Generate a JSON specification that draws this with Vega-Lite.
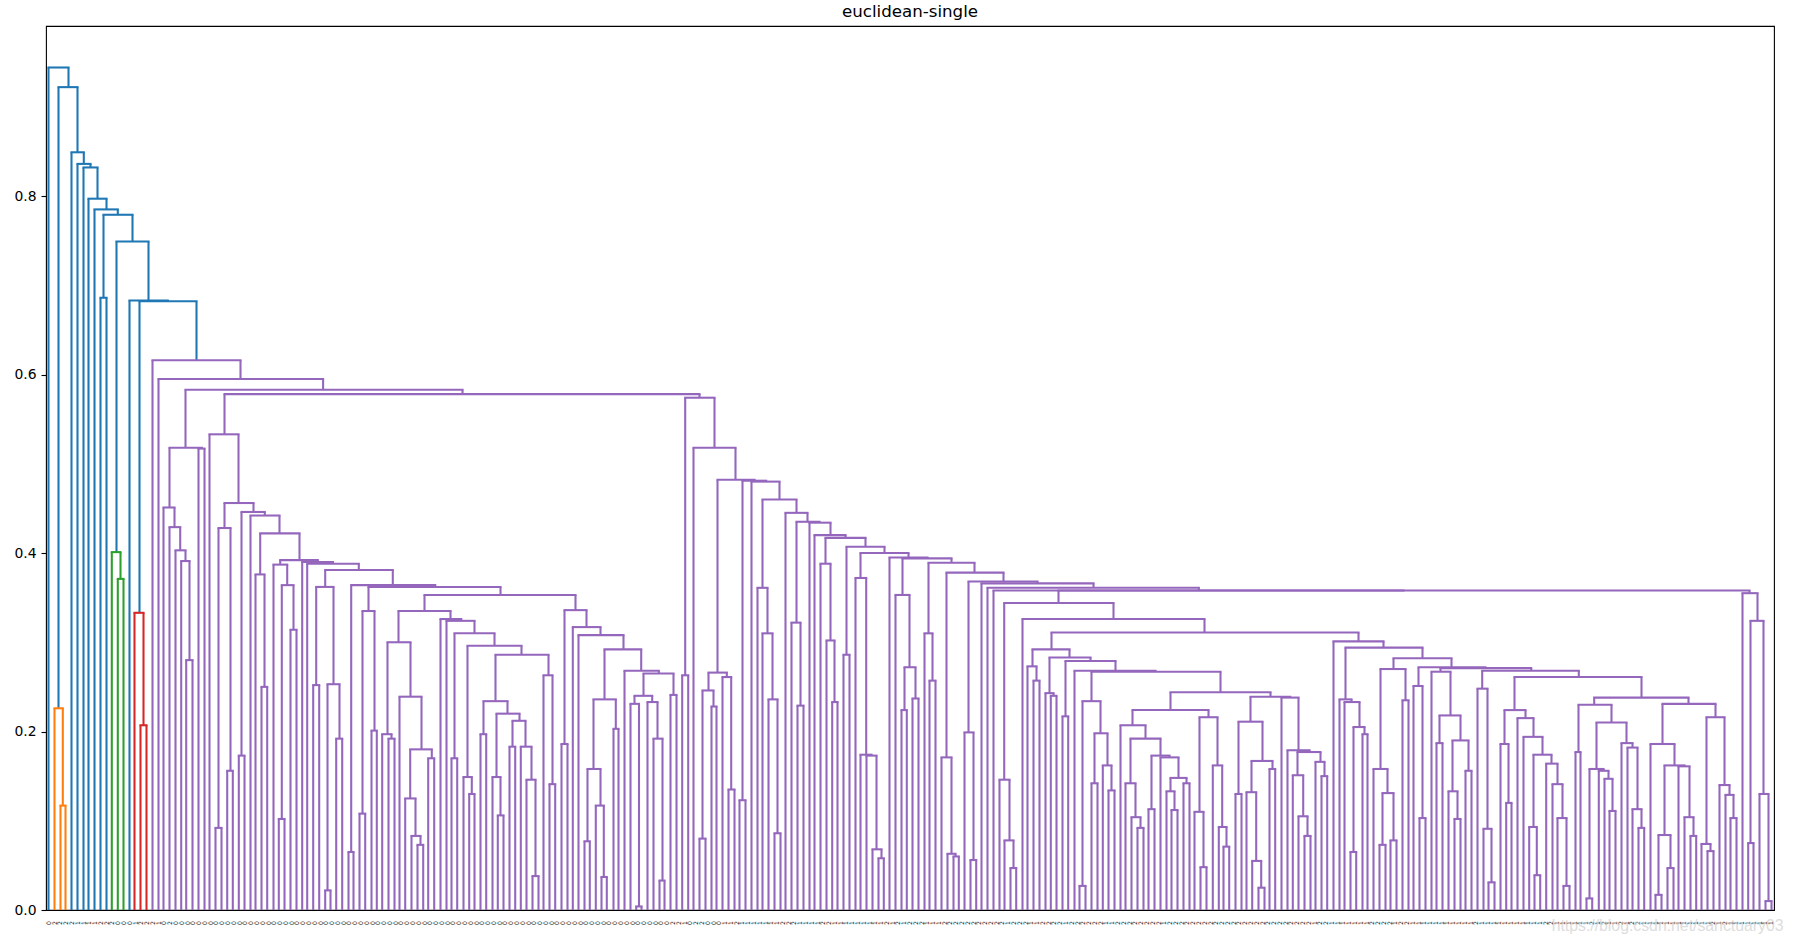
{"$schema":"https://vega.github.io/schema/vega-lite/v6.json","width":1728,"height":884,"autosize":{"type":"none"},"padding":{"left":46,"top":26,"right":19,"bottom":33},"background":"white","title":{"text":"euclidean-single","font":"DejaVu Sans","fontSize":16.67,"fontWeight":"normal","color":"#000","anchor":"middle","offset":5},"config":{"view":{"stroke":"#000","strokeWidth":1.1},"axisY":{"grid":false,"domain":false,"tickSize":5,"tickColor":"#000","tickWidth":1.1,"labelColor":"#000","labelFont":"DejaVu Sans","labelFontSize":13.9,"labelPadding":5,"title":null}},"datasets":{"links":[
{"l":49,"r":69,"t":0.944,"a":0,"b":0.922,"c":"C0"},{"l":59,"r":78,"t":0.922,"a":0.226,"b":0.849,"c":"C0"},{"l":72,"r":84.3,"t":0.849,"a":0,"b":0.836,"c":"C0"},{"l":78,"r":91,"t":0.836,"a":0,"b":0.832,"c":"C0"},{"l":84,"r":98,"t":0.832,"a":0,"b":0.797,"c":"C0"},{"l":89,"r":107,"t":0.797,"a":0,"b":0.785,"c":"C0"},{"l":95,"r":118.3,"t":0.785,"a":0,"b":0.779,"c":"C0"},{"l":104,"r":133,"t":0.779,"a":0.686,"b":0.749,"c":"C0"},{"l":101,"r":107,"t":0.686,"a":0,"b":0,"c":"C0"},{"l":117,"r":149,"t":0.749,"a":0.401,"b":0.683,"c":"C0"},{"l":130,"r":168.3,"t":0.683,"a":0,"b":0.682,"c":"C0"},{"l":140,"r":197,"t":0.682,"a":0.333,"b":0.616,"c":"C0"},
{"l":55,"r":63.3,"t":0.226,"a":0,"b":0.117,"c":"C1"},{"l":61,"r":66,"t":0.117,"a":0,"b":0,"c":"C1"},
{"l":112.3,"r":121,"t":0.401,"a":0,"b":0.371,"c":"C2"},{"l":118.3,"r":124,"t":0.371,"a":0,"b":0,"c":"C2"},
{"l":135,"r":144,"t":0.333,"a":0,"b":0.207,"c":"C3"},{"l":141,"r":147,"t":0.207,"a":0,"b":0,"c":"C3"},
{"l":153,"r":241,"t":0.616,"a":0,"b":0.595,"c":"C4"},{"l":159,"r":323.6,"t":0.595,"a":0,"b":0.583,"c":"C4"},{"l":186,"r":463,"t":0.583,"a":0.518,"b":0.578,"c":"C4"},{"l":170,"r":202.3,"t":0.518,"a":0.451,"b":0.517,"c":"C4"},{"l":164,"r":175,"t":0.451,"a":0,"b":0.429,"c":"C4"},{"l":170,"r":180.7,"t":0.429,"a":0,"b":0.403,"c":"C4"},{"l":176,"r":186,"t":0.403,"a":0,"b":0.391,"c":"C4"},{"l":181.7,"r":190,"t":0.391,"a":0,"b":0.28,"c":"C4"},{"l":186.7,"r":193,"t":0.28,"a":0,"b":0,"c":"C4"},{"l":199,"r":205,"t":0.517,"a":0,"b":0,"c":"C4"},
{"l":225,"r":700,"t":0.578,"a":0.533,"b":0.574,"c":"C4"},{"l":210,"r":239,"t":0.533,"a":0,"b":0.456,"c":"C4"},{"l":225,"r":254,"t":0.456,"a":0.428,"b":0.446,"c":"C4"},{"l":219,"r":231,"t":0.428,"a":0.092,"b":0.156,"c":"C4"},{"l":216,"r":222,"t":0.092,"a":0,"b":0,"c":"C4"},{"l":227.7,"r":233.3,"t":0.156,"a":0,"b":0,"c":"C4"},{"l":242,"r":265.3,"t":0.446,"a":0.173,"b":0.442,"c":"C4"},{"l":239.3,"r":245,"t":0.173,"a":0,"b":0,"c":"C4"},{"l":251,"r":280,"t":0.442,"a":0,"b":0.422,"c":"C4"},{"l":260.7,"r":300,"t":0.422,"a":0.376,"b":0.392,"c":"C4"},{"l":256,"r":265,"t":0.376,"a":0,"b":0.25,"c":"C4"},{"l":262,"r":267.7,"t":0.25,"a":0,"b":0,"c":"C4"},{"l":280.7,"r":318.3,"t":0.392,"a":0.387,"b":0.39,"c":"C4"},{"l":274,"r":287.7,"t":0.387,"a":0,"b":0.364,"c":"C4"},{"l":282.3,"r":294,"t":0.364,"a":0.102,"b":0.314,"c":"C4"},{"l":279.3,"r":285,"t":0.102,"a":0,"b":0,"c":"C4"},{"l":291,"r":297,"t":0.314,"a":0,"b":0,"c":"C4"},{"l":302.7,"r":333.5,"t":0.39,"a":0,"b":0.388,"c":"C4"},{"l":307.7,"r":359.3,"t":0.388,"a":0,"b":0.381,"c":"C4"},{"l":325.7,"r":393.3,"t":0.381,"a":0.362,"b":0.364,"c":"C4"},{"l":316.7,"r":334,"t":0.362,"a":0.252,"b":0.253,"c":"C4"},{"l":313.7,"r":319.7,"t":0.252,"a":0,"b":0,"c":"C4"},{"l":328,"r":340,"t":0.253,"a":0.022,"b":0.192,"c":"C4"},{"l":325.7,"r":331,"t":0.022,"a":0,"b":0,"c":"C4"},{"l":336.7,"r":342.7,"t":0.192,"a":0,"b":0,"c":"C4"},{"l":351.7,"r":435.7,"t":0.364,"a":0.065,"b":0.362,"c":"C4"},{"l":349,"r":354,"t":0.065,"a":0,"b":0,"c":"C4"},{"l":369,"r":501,"t":0.362,"a":0.335,"b":0.353,"c":"C4"},{"l":363,"r":375,"t":0.335,"a":0.108,"b":0.201,"c":"C4"},{"l":360,"r":365.7,"t":0.108,"a":0,"b":0,"c":"C4"},{"l":372,"r":377.3,"t":0.201,"a":0,"b":0,"c":"C4"},{"l":425,"r":576,"t":0.353,"a":0.335,"b":0.336,"c":"C4"},{"l":399,"r":451,"t":0.335,"a":0.3,"b":0.326,"c":"C4"},{"l":388,"r":411,"t":0.3,"a":0.197,"b":0.239,"c":"C4"},{"l":382.7,"r":392,"t":0.197,"a":0,"b":0.192,"c":"C4"},{"l":389,"r":395,"t":0.192,"a":0,"b":0,"c":"C4"},{"l":400,"r":422,"t":0.239,"a":0,"b":0.18,"c":"C4"},{"l":410.7,"r":432.3,"t":0.18,"a":0.125,"b":0.17,"c":"C4"},{"l":405.7,"r":416,"t":0.125,"a":0,"b":0.083,"c":"C4"},{"l":412,"r":421,"t":0.083,"a":0,"b":0.073,"c":"C4"},{"l":418,"r":423.7,"t":0.073,"a":0,"b":0,"c":"C4"},{"l":428.7,"r":434.7,"t":0.17,"a":0,"b":0,"c":"C4"},{"l":441,"r":461.7,"t":0.326,"a":0,"b":0.324,"c":"C4"},{"l":447,"r":475,"t":0.324,"a":0,"b":0.31,"c":"C4"},{"l":455,"r":495,"t":0.31,"a":0.17,"b":0.296,"c":"C4"},{"l":452,"r":457.7,"t":0.17,"a":0,"b":0,"c":"C4"},{"l":468,"r":522,"t":0.296,"a":0.149,"b":0.286,"c":"C4"},{"l":464,"r":472.3,"t":0.149,"a":0,"b":0.13,"c":"C4"},{"l":469.7,"r":475,"t":0.13,"a":0,"b":0,"c":"C4"},{"l":496,"r":549,"t":0.286,"a":0.234,"b":0.263,"c":"C4"},{"l":484,"r":508,"t":0.234,"a":0.197,"b":0.22,"c":"C4"},{"l":481,"r":486.7,"t":0.197,"a":0,"b":0,"c":"C4"},{"l":497,"r":520,"t":0.22,"a":0.149,"b":0.212,"c":"C4"},{"l":493,"r":501,"t":0.149,"a":0,"b":0.106,"c":"C4"},{"l":498.3,"r":504,"t":0.106,"a":0,"b":0,"c":"C4"},{"l":513,"r":526,"t":0.212,"a":0.183,"b":0.183,"c":"C4"},{"l":510,"r":515.7,"t":0.183,"a":0,"b":0,"c":"C4"},{"l":521.3,"r":532,"t":0.183,"a":0,"b":0.146,"c":"C4"},{"l":527,"r":536,"t":0.146,"a":0,"b":0.038,"c":"C4"},{"l":533,"r":539,"t":0.038,"a":0,"b":0,"c":"C4"},{"l":544,"r":553,"t":0.263,"a":0,"b":0.141,"c":"C4"},{"l":550,"r":555.7,"t":0.141,"a":0,"b":0,"c":"C4"},{"l":565,"r":587,"t":0.336,"a":0.186,"b":0.317,"c":"C4"},{"l":562,"r":568,"t":0.186,"a":0,"b":0,"c":"C4"},{"l":573.3,"r":601,"t":0.317,"a":0,"b":0.308,"c":"C4"},{"l":579,"r":624,"t":0.308,"a":0,"b":0.292,"c":"C4"},{"l":605,"r":641.7,"t":0.292,"a":0.236,"b":0.268,"c":"C4"},{"l":594,"r":616.3,"t":0.236,"a":0.158,"b":0.203,"c":"C4"},{"l":588,"r":601,"t":0.158,"a":0.077,"b":0.117,"c":"C4"},{"l":585,"r":590.3,"t":0.077,"a":0,"b":0,"c":"C4"},{"l":596.3,"r":604.3,"t":0.117,"a":0,"b":0.037,"c":"C4"},{"l":602,"r":607.3,"t":0.037,"a":0,"b":0,"c":"C4"},{"l":614,"r":619,"t":0.203,"a":0,"b":0,"c":"C4"},{"l":625,"r":659.3,"t":0.268,"a":0,"b":0.265,"c":"C4"},{"l":644,"r":674,"t":0.265,"a":0.24,"b":0.241,"c":"C4"},{"l":635,"r":652.7,"t":0.24,"a":0.231,"b":0.233,"c":"C4"},{"l":631,"r":639.5,"t":0.231,"a":0,"b":0.004,"c":"C4"},{"l":636.7,"r":642,"t":0.004,"a":0,"b":0,"c":"C4"},{"l":648,"r":658,"t":0.233,"a":0,"b":0.192,"c":"C4"},{"l":654,"r":663,"t":0.192,"a":0,"b":0.033,"c":"C4"},{"l":660,"r":665,"t":0.033,"a":0,"b":0,"c":"C4"},{"l":671,"r":677,"t":0.241,"a":0,"b":0,"c":"C4"},
{"l":685.7,"r":715,"t":0.574,"a":0.263,"b":0.518,"c":"C4"},{"l":682.7,"r":688.7,"t":0.263,"a":0,"b":0,"c":"C4"},{"l":694,"r":736,"t":0.518,"a":0,"b":0.482,"c":"C4"},{"l":718,"r":755,"t":0.482,"a":0.266,"b":0.481,"c":"C4"},{"l":709,"r":727.3,"t":0.266,"a":0.246,"b":0.261,"c":"C4"},{"l":703,"r":714,"t":0.246,"a":0.08,"b":0.228,"c":"C4"},{"l":700,"r":706,"t":0.08,"a":0,"b":0,"c":"C4"},{"l":712,"r":717,"t":0.228,"a":0,"b":0,"c":"C4"},{"l":723,"r":731.7,"t":0.261,"a":0,"b":0.135,"c":"C4"},{"l":729,"r":735,"t":0.135,"a":0,"b":0,"c":"C4"},{"l":743,"r":766.7,"t":0.481,"a":0.123,"b":0.48,"c":"C4"},{"l":740,"r":746,"t":0.123,"a":0,"b":0,"c":"C4"},{"l":752,"r":780,"t":0.48,"a":0,"b":0.46,"c":"C4"},{"l":763,"r":797,"t":0.46,"a":0.361,"b":0.445,"c":"C4"},{"l":758,"r":768,"t":0.361,"a":0,"b":0.31,"c":"C4"},{"l":763,"r":773,"t":0.31,"a":0,"b":0.236,"c":"C4"},{"l":769,"r":778,"t":0.236,"a":0,"b":0.086,"c":"C4"},{"l":775,"r":781,"t":0.086,"a":0,"b":0,"c":"C4"},{"l":786,"r":808,"t":0.445,"a":0,"b":0.435,"c":"C4"},{"l":797,"r":820,"t":0.435,"a":0.322,"b":0.434,"c":"C4"},{"l":792,"r":801,"t":0.322,"a":0,"b":0.229,"c":"C4"},{"l":798,"r":804,"t":0.229,"a":0,"b":0,"c":"C4"},{"l":810,"r":831,"t":0.434,"a":0,"b":0.42,"c":"C4"},{"l":815,"r":846,"t":0.42,"a":0,"b":0.417,"c":"C4"},{"l":826,"r":866,"t":0.417,"a":0.388,"b":0.407,"c":"C4"},{"l":821,"r":831,"t":0.388,"a":0,"b":0.302,"c":"C4"},{"l":827,"r":835,"t":0.302,"a":0,"b":0.233,"c":"C4"},{"l":832.7,"r":838,"t":0.233,"a":0,"b":0,"c":"C4"},{"l":847,"r":885,"t":0.407,"a":0.286,"b":0.4,"c":"C4"},{"l":844,"r":850,"t":0.286,"a":0,"b":0,"c":"C4"},{"l":861,"r":909,"t":0.4,"a":0.372,"b":0.395,"c":"C4"},{"l":856,"r":866.7,"t":0.372,"a":0,"b":0.174,"c":"C4"},{"l":861,"r":872,"t":0.174,"a":0,"b":0.173,"c":"C4"},{"l":867,"r":877,"t":0.173,"a":0,"b":0.068,"c":"C4"},{"l":873,"r":882,"t":0.068,"a":0,"b":0.058,"c":"C4"},{"l":879,"r":884.3,"t":0.058,"a":0,"b":0,"c":"C4"},{"l":890,"r":928,"t":0.395,"a":0,"b":0.394,"c":"C4"},{"l":903,"r":952,"t":0.394,"a":0.353,"b":0.389,"c":"C4"},{"l":896,"r":910,"t":0.353,"a":0,"b":0.272,"c":"C4"},{"l":905,"r":916,"t":0.272,"a":0.224,"b":0.237,"c":"C4"},{"l":902,"r":907.3,"t":0.224,"a":0,"b":0,"c":"C4"},{"l":913,"r":919,"t":0.237,"a":0,"b":0,"c":"C4"},{"l":929,"r":975,"t":0.389,"a":0.31,"b":0.378,"c":"C4"},{"l":925,"r":933,"t":0.31,"a":0,"b":0.257,"c":"C4"},{"l":930,"r":936,"t":0.257,"a":0,"b":0,"c":"C4"},{"l":947,"r":1004,"t":0.378,"a":0.171,"b":0.368,"c":"C4"},{"l":942,"r":952,"t":0.171,"a":0,"b":0.063,"c":"C4"},{"l":948,"r":956,"t":0.063,"a":0,"b":0.06,"c":"C4"},{"l":954,"r":959.3,"t":0.06,"a":0,"b":0,"c":"C4"},{"l":969,"r":1038,"t":0.368,"a":0.199,"b":0.366,"c":"C4"},{"l":965,"r":974,"t":0.199,"a":0,"b":0.056,"c":"C4"},{"l":971,"r":976.7,"t":0.056,"a":0,"b":0,"c":"C4"},{"l":982,"r":1094,"t":0.366,"a":0,"b":0.361,"c":"C4"},{"l":988,"r":1199.3,"t":0.361,"a":0,"b":0.358,"c":"C4"},{"l":994,"r":1404,"t":0.358,"a":0,"b":0.358,"c":"C4"},{"l":1059,"r":1750,"t":0.358,"a":0.344,"b":0.355,"c":"C4"},{"l":1004.7,"r":1114,"t":0.344,"a":0.146,"b":0.326,"c":"C4"},{"l":1000,"r":1010,"t":0.146,"a":0,"b":0.078,"c":"C4"},{"l":1005,"r":1014,"t":0.078,"a":0,"b":0.047,"c":"C4"},{"l":1011,"r":1016.7,"t":0.047,"a":0,"b":0,"c":"C4"},{"l":1023,"r":1205,"t":0.326,"a":0,"b":0.311,"c":"C4"},{"l":1052,"r":1359,"t":0.311,"a":0.292,"b":0.301,"c":"C4"},{"l":1033,"r":1070,"t":0.292,"a":0.273,"b":0.283,"c":"C4"},{"l":1028,"r":1037,"t":0.273,"a":0,"b":0.257,"c":"C4"},{"l":1034,"r":1040,"t":0.257,"a":0,"b":0,"c":"C4"},{"l":1050,"r":1091,"t":0.283,"a":0.243,"b":0.279,"c":"C4"},{"l":1046,"r":1054,"t":0.243,"a":0,"b":0.24,"c":"C4"},{"l":1051.3,"r":1057,"t":0.24,"a":0,"b":0,"c":"C4"},{"l":1066,"r":1116,"t":0.279,"a":0.217,"b":0.268,"c":"C4"},{"l":1063,"r":1068.7,"t":0.217,"a":0,"b":0,"c":"C4"},{"l":1075,"r":1156,"t":0.268,"a":0,"b":0.267,"c":"C4"},{"l":1092,"r":1221,"t":0.267,"a":0.234,"b":0.244,"c":"C4"},{"l":1083,"r":1101,"t":0.234,"a":0.027,"b":0.198,"c":"C4"},{"l":1080,"r":1086,"t":0.027,"a":0,"b":0,"c":"C4"},{"l":1095,"r":1108,"t":0.198,"a":0.142,"b":0.162,"c":"C4"},{"l":1092,"r":1098,"t":0.142,"a":0,"b":0,"c":"C4"},{"l":1103.3,"r":1112,"t":0.162,"a":0,"b":0.134,"c":"C4"},{"l":1109,"r":1115,"t":0.134,"a":0,"b":0,"c":"C4"},{"l":1171,"r":1271,"t":0.244,"a":0.224,"b":0.239,"c":"C4"},{"l":1133,"r":1209,"t":0.224,"a":0.207,"b":0.216,"c":"C4"},{"l":1121,"r":1146,"t":0.207,"a":0,"b":0.192,"c":"C4"},{"l":1131,"r":1161,"t":0.192,"a":0.142,"b":0.173,"c":"C4"},{"l":1126,"r":1136,"t":0.142,"a":0,"b":0.104,"c":"C4"},{"l":1132,"r":1141,"t":0.104,"a":0,"b":0.092,"c":"C4"},{"l":1138,"r":1144,"t":0.092,"a":0,"b":0,"c":"C4"},{"l":1152,"r":1170,"t":0.173,"a":0.113,"b":0.171,"c":"C4"},{"l":1149,"r":1155,"t":0.113,"a":0,"b":0,"c":"C4"},{"l":1161,"r":1179,"t":0.171,"a":0,"b":0.148,"c":"C4"},{"l":1171,"r":1187,"t":0.148,"a":0.133,"b":0.142,"c":"C4"},{"l":1167,"r":1175,"t":0.133,"a":0,"b":0.112,"c":"C4"},{"l":1172,"r":1178,"t":0.112,"a":0,"b":0,"c":"C4"},{"l":1184,"r":1190,"t":0.142,"a":0,"b":0,"c":"C4"},{"l":1200,"r":1218,"t":0.216,"a":0.11,"b":0.162,"c":"C4"},{"l":1195,"r":1204,"t":0.11,"a":0,"b":0.048,"c":"C4"},{"l":1201,"r":1207,"t":0.048,"a":0,"b":0,"c":"C4"},{"l":1213.3,"r":1222.7,"t":0.162,"a":0,"b":0.093,"c":"C4"},{"l":1219.3,"r":1227,"t":0.093,"a":0,"b":0.071,"c":"C4"},{"l":1224,"r":1229.7,"t":0.071,"a":0,"b":0,"c":"C4"},{"l":1251,"r":1290.7,"t":0.239,"a":0.211,"b":0.238,"c":"C4"},{"l":1239,"r":1263,"t":0.211,"a":0.13,"b":0.167,"c":"C4"},{"l":1236,"r":1242,"t":0.13,"a":0,"b":0,"c":"C4"},{"l":1252,"r":1273,"t":0.167,"a":0.132,"b":0.158,"c":"C4"},{"l":1247,"r":1256.7,"t":0.132,"a":0,"b":0.055,"c":"C4"},{"l":1252.7,"r":1261.7,"t":0.055,"a":0,"b":0.025,"c":"C4"},{"l":1259,"r":1265,"t":0.025,"a":0,"b":0,"c":"C4"},{"l":1270,"r":1275.7,"t":0.158,"a":0,"b":0,"c":"C4"},{"l":1282,"r":1299,"t":0.238,"a":0,"b":0.179,"c":"C4"},{"l":1288,"r":1310,"t":0.179,"a":0,"b":0.177,"c":"C4"},{"l":1298,"r":1321,"t":0.177,"a":0.151,"b":0.166,"c":"C4"},{"l":1293.3,"r":1303.7,"t":0.151,"a":0,"b":0.105,"c":"C4"},{"l":1299,"r":1308,"t":0.105,"a":0,"b":0.083,"c":"C4"},{"l":1305,"r":1311,"t":0.083,"a":0,"b":0,"c":"C4"},{"l":1316,"r":1325,"t":0.166,"a":0,"b":0.15,"c":"C4"},{"l":1322,"r":1327.7,"t":0.15,"a":0,"b":0,"c":"C4"},{"l":1334,"r":1384,"t":0.301,"a":0,"b":0.294,"c":"C4"},{"l":1346,"r":1423,"t":0.294,"a":0.236,"b":0.282,"c":"C4"},{"l":1340,"r":1352,"t":0.236,"a":0,"b":0.233,"c":"C4"},{"l":1345,"r":1360,"t":0.233,"a":0,"b":0.205,"c":"C4"},{"l":1354,"r":1365,"t":0.205,"a":0.065,"b":0.197,"c":"C4"},{"l":1351,"r":1356.7,"t":0.065,"a":0,"b":0,"c":"C4"},{"l":1363,"r":1368,"t":0.197,"a":0,"b":0,"c":"C4"},{"l":1394,"r":1452,"t":0.282,"a":0.27,"b":0.272,"c":"C4"},{"l":1381,"r":1406,"t":0.27,"a":0.158,"b":0.235,"c":"C4"},{"l":1374,"r":1388,"t":0.158,"a":0,"b":0.131,"c":"C4"},{"l":1383,"r":1394,"t":0.131,"a":0.073,"b":0.078,"c":"C4"},{"l":1380,"r":1386,"t":0.073,"a":0,"b":0,"c":"C4"},{"l":1391,"r":1397,"t":0.078,"a":0,"b":0,"c":"C4"},{"l":1403,"r":1409,"t":0.235,"a":0,"b":0,"c":"C4"},{"l":1419,"r":1486,"t":0.272,"a":0.251,"b":0.271,"c":"C4"},{"l":1414,"r":1423,"t":0.251,"a":0,"b":0.103,"c":"C4"},{"l":1420,"r":1426,"t":0.103,"a":0,"b":0,"c":"C4"},{"l":1441,"r":1531.7,"t":0.271,"a":0.267,"b":0.268,"c":"C4"},{"l":1432,"r":1451,"t":0.267,"a":0,"b":0.218,"c":"C4"},{"l":1440,"r":1461,"t":0.218,"a":0.187,"b":0.19,"c":"C4"},{"l":1437,"r":1443,"t":0.187,"a":0,"b":0,"c":"C4"},{"l":1453,"r":1469,"t":0.19,"a":0.133,"b":0.156,"c":"C4"},{"l":1449,"r":1458,"t":0.133,"a":0,"b":0.102,"c":"C4"},{"l":1455,"r":1461,"t":0.102,"a":0,"b":0,"c":"C4"},{"l":1466,"r":1472,"t":0.156,"a":0,"b":0,"c":"C4"},{"l":1482.7,"r":1579.3,"t":0.268,"a":0.248,"b":0.261,"c":"C4"},{"l":1478,"r":1488,"t":0.248,"a":0,"b":0.091,"c":"C4"},{"l":1484,"r":1492,"t":0.091,"a":0,"b":0.031,"c":"C4"},{"l":1489,"r":1495,"t":0.031,"a":0,"b":0,"c":"C4"},{"l":1515,"r":1642,"t":0.261,"a":0.224,"b":0.238,"c":"C4"},{"l":1505,"r":1526,"t":0.224,"a":0.186,"b":0.215,"c":"C4"},{"l":1501,"r":1509,"t":0.186,"a":0,"b":0.12,"c":"C4"},{"l":1506.7,"r":1512,"t":0.12,"a":0,"b":0,"c":"C4"},{"l":1518,"r":1534,"t":0.215,"a":0,"b":0.194,"c":"C4"},{"l":1524,"r":1543,"t":0.194,"a":0,"b":0.174,"c":"C4"},{"l":1534,"r":1552,"t":0.174,"a":0.093,"b":0.164,"c":"C4"},{"l":1529.7,"r":1537.3,"t":0.093,"a":0,"b":0.039,"c":"C4"},{"l":1535,"r":1540.7,"t":0.039,"a":0,"b":0,"c":"C4"},{"l":1546.7,"r":1558,"t":0.164,"a":0,"b":0.141,"c":"C4"},{"l":1553,"r":1563,"t":0.141,"a":0,"b":0.103,"c":"C4"},{"l":1558,"r":1567,"t":0.103,"a":0,"b":0.027,"c":"C4"},{"l":1564,"r":1570,"t":0.027,"a":0,"b":0,"c":"C4"},{"l":1594.7,"r":1689,"t":0.238,"a":0.23,"b":0.231,"c":"C4"},{"l":1579,"r":1612,"t":0.23,"a":0.177,"b":0.21,"c":"C4"},{"l":1576,"r":1581,"t":0.177,"a":0,"b":0,"c":"C4"},{"l":1597,"r":1627,"t":0.21,"a":0.158,"b":0.187,"c":"C4"},{"l":1590,"r":1604,"t":0.158,"a":0.013,"b":0.156,"c":"C4"},{"l":1587,"r":1592.7,"t":0.013,"a":0,"b":0,"c":"C4"},{"l":1599.3,"r":1609,"t":0.156,"a":0,"b":0.147,"c":"C4"},{"l":1605,"r":1613,"t":0.147,"a":0,"b":0.111,"c":"C4"},{"l":1610,"r":1616,"t":0.111,"a":0,"b":0,"c":"C4"},{"l":1622,"r":1633,"t":0.187,"a":0,"b":0.182,"c":"C4"},{"l":1628,"r":1638,"t":0.182,"a":0,"b":0.113,"c":"C4"},{"l":1633,"r":1642,"t":0.113,"a":0,"b":0.092,"c":"C4"},{"l":1639,"r":1644.7,"t":0.092,"a":0,"b":0,"c":"C4"},{"l":1663,"r":1716,"t":0.231,"a":0.186,"b":0.216,"c":"C4"},{"l":1651,"r":1675,"t":0.186,"a":0,"b":0.162,"c":"C4"},{"l":1665,"r":1685,"t":0.162,"a":0.084,"b":0.161,"c":"C4"},{"l":1679,"r":1690,"t":0.161,"a":0,"b":0.104,"c":"C4"},{"l":1685,"r":1694,"t":0.104,"a":0,"b":0.083,"c":"C4"},{"l":1691,"r":1696.7,"t":0.083,"a":0,"b":0,"c":"C4"},{"l":1659,"r":1671,"t":0.084,"a":0.017,"b":0.047,"c":"C4"},{"l":1656,"r":1662,"t":0.017,"a":0,"b":0,"c":"C4"},{"l":1668,"r":1674,"t":0.047,"a":0,"b":0,"c":"C4"},{"l":1707,"r":1725,"t":0.216,"a":0.074,"b":0.14,"c":"C4"},{"l":1702,"r":1711,"t":0.074,"a":0,"b":0.066,"c":"C4"},{"l":1708,"r":1714,"t":0.066,"a":0,"b":0,"c":"C4"},{"l":1720,"r":1730,"t":0.14,"a":0,"b":0.129,"c":"C4"},{"l":1726,"r":1734,"t":0.129,"a":0,"b":0.103,"c":"C4"},{"l":1731,"r":1737,"t":0.103,"a":0,"b":0,"c":"C4"},{"l":1743,"r":1758,"t":0.355,"a":0,"b":0.324,"c":"C4"},{"l":1751,"r":1764,"t":0.324,"a":0.075,"b":0.13,"c":"C4"},{"l":1748.7,"r":1754,"t":0.075,"a":0,"b":0,"c":"C4"},{"l":1760,"r":1769,"t":0.13,"a":0,"b":0.01,"c":"C4"},{"l":1766,"r":1772,"t":0.01,"a":0,"b":0,"c":"C4"}
],"leaves":[
{"k":0,"s":0},{"k":1,"s":2},{"k":2,"s":2},{"k":3,"s":2},{"k":4,"s":2},{"k":5,"s":1},{"k":6,"s":1},{"k":7,"s":1},{"k":8,"s":1},{"k":9,"s":2},{"k":10,"s":2},{"k":11,"s":2},{"k":12,"s":0},{"k":13,"s":0},{"k":14,"s":0},{"k":15,"s":1},{"k":16,"s":2},{"k":17,"s":2},{"k":18,"s":2},{"k":19,"s":1},{"k":20,"s":0},{"k":21,"s":2},
{"k":22,"s":0},{"k":23,"s":0},{"k":24,"s":0},{"k":25,"s":0},{"k":26,"s":0},{"k":27,"s":0},{"k":28,"s":0},{"k":29,"s":0},{"k":30,"s":0},{"k":31,"s":0},{"k":32,"s":0},{"k":33,"s":0},{"k":34,"s":0},{"k":35,"s":0},{"k":36,"s":0},{"k":37,"s":0},{"k":38,"s":0},{"k":39,"s":0},{"k":40,"s":0},{"k":41,"s":0},{"k":42,"s":0},{"k":43,"s":0},{"k":44,"s":0},{"k":45,"s":0},{"k":46,"s":0},{"k":47,"s":0},{"k":48,"s":0},{"k":49,"s":0},{"k":50,"s":0},{"k":51,"s":0},{"k":52,"s":0},{"k":53,"s":0},{"k":54,"s":0},{"k":55,"s":0},{"k":56,"s":0},{"k":57,"s":0},{"k":58,"s":0},{"k":59,"s":0},{"k":60,"s":0},{"k":61,"s":0},{"k":62,"s":0},{"k":63,"s":0},{"k":64,"s":0},{"k":65,"s":0},{"k":66,"s":0},{"k":67,"s":0},{"k":68,"s":0},{"k":69,"s":0},{"k":70,"s":0},{"k":71,"s":0},{"k":72,"s":0},{"k":73,"s":0},{"k":74,"s":0},{"k":75,"s":0},{"k":76,"s":0},{"k":77,"s":0},{"k":78,"s":0},{"k":79,"s":0},{"k":80,"s":0},{"k":81,"s":0},{"k":82,"s":0},{"k":83,"s":0},{"k":84,"s":0},{"k":85,"s":0},{"k":86,"s":0},{"k":87,"s":0},{"k":88,"s":0},{"k":89,"s":0},{"k":90,"s":0},{"k":91,"s":0},{"k":92,"s":0},{"k":93,"s":0},{"k":94,"s":0},{"k":95,"s":0},{"k":96,"s":0},{"k":97,"s":0},{"k":98,"s":0},{"k":99,"s":0},{"k":100,"s":0},{"k":101,"s":0},{"k":102,"s":0},{"k":103,"s":0},{"k":104,"s":0},{"k":105,"s":0},{"k":106,"s":0},{"k":107,"s":0},
{"k":108,"s":2},{"k":109,"s":2},{"k":110,"s":1},{"k":111,"s":0},{"k":112,"s":2},{"k":113,"s":2},{"k":114,"s":0},{"k":115,"s":0},{"k":116,"s":0},{"k":117,"s":1},{"k":118,"s":1},{"k":119,"s":2},{"k":120,"s":1},{"k":121,"s":1},{"k":122,"s":1},{"k":123,"s":1},{"k":124,"s":1},{"k":125,"s":1},{"k":126,"s":1},{"k":127,"s":2},{"k":128,"s":2},{"k":129,"s":2},{"k":130,"s":1},{"k":131,"s":1},{"k":132,"s":1},{"k":133,"s":1},{"k":134,"s":2},{"k":135,"s":2},{"k":136,"s":1},{"k":137,"s":1},{"k":138,"s":1},{"k":139,"s":1},{"k":140,"s":1},{"k":141,"s":1},{"k":142,"s":1},{"k":143,"s":1},{"k":144,"s":1},{"k":145,"s":2},{"k":146,"s":1},{"k":147,"s":2},{"k":148,"s":1},{"k":149,"s":2},{"k":150,"s":2},{"k":151,"s":2},{"k":152,"s":1},{"k":153,"s":1},{"k":154,"s":1},{"k":155,"s":2},{"k":156,"s":2},{"k":157,"s":2},{"k":158,"s":2},{"k":159,"s":2},{"k":160,"s":2},
{"k":161,"s":2},{"k":162,"s":2},{"k":163,"s":2},{"k":164,"s":2},{"k":165,"s":2},{"k":166,"s":1},{"k":167,"s":2},{"k":168,"s":2},{"k":169,"s":2},{"k":170,"s":1},{"k":171,"s":1},{"k":172,"s":2},{"k":173,"s":2},{"k":174,"s":2},{"k":175,"s":2},{"k":176,"s":1},{"k":177,"s":2},{"k":178,"s":2},{"k":179,"s":2},{"k":180,"s":2},{"k":181,"s":2},{"k":182,"s":2},{"k":183,"s":1},{"k":184,"s":1},{"k":185,"s":2},{"k":186,"s":2},{"k":187,"s":2},{"k":188,"s":2},{"k":189,"s":2},{"k":190,"s":2},{"k":191,"s":2},{"k":192,"s":2},{"k":193,"s":1},{"k":194,"s":2},{"k":195,"s":2},{"k":196,"s":2},{"k":197,"s":2},{"k":198,"s":2},{"k":199,"s":2},{"k":200,"s":2},{"k":201,"s":2},{"k":202,"s":2},{"k":203,"s":2},{"k":204,"s":2},{"k":205,"s":2},{"k":206,"s":2},{"k":207,"s":2},{"k":208,"s":2},
{"k":209,"s":2},{"k":210,"s":2},{"k":211,"s":2},{"k":212,"s":2},{"k":213,"s":2},{"k":214,"s":2},{"k":215,"s":2},{"k":216,"s":2},{"k":217,"s":2},{"k":218,"s":2},{"k":219,"s":1},{"k":220,"s":2},{"k":221,"s":2},
{"k":222,"s":1},{"k":223,"s":1},{"k":224,"s":1},{"k":225,"s":1},{"k":226,"s":1},{"k":227,"s":1},{"k":228,"s":1},{"k":229,"s":2},{"k":230,"s":2},{"k":231,"s":2},{"k":232,"s":2},{"k":233,"s":1},{"k":234,"s":2},{"k":235,"s":2},{"k":236,"s":1},{"k":237,"s":1},{"k":238,"s":1},{"k":239,"s":1},{"k":240,"s":1},{"k":241,"s":1},{"k":242,"s":1},{"k":243,"s":1},{"k":244,"s":1},{"k":245,"s":1},{"k":246,"s":1},{"k":247,"s":2},{"k":248,"s":1},{"k":249,"s":1},{"k":250,"s":1},{"k":251,"s":1},{"k":252,"s":1},{"k":253,"s":1},{"k":254,"s":1},{"k":255,"s":1},{"k":256,"s":1},{"k":257,"s":1},
{"k":258,"s":1},{"k":259,"s":2},{"k":260,"s":2},{"k":261,"s":1},{"k":262,"s":1},{"k":263,"s":1},{"k":264,"s":1},{"k":265,"s":1},{"k":266,"s":1},{"k":267,"s":2},{"k":268,"s":1},{"k":269,"s":2},{"k":270,"s":1},{"k":271,"s":1},{"k":272,"s":2},{"k":273,"s":1},{"k":274,"s":2},{"k":275,"s":2},{"k":276,"s":1},{"k":277,"s":1},{"k":278,"s":1},{"k":279,"s":1},{"k":280,"s":1},{"k":281,"s":1},{"k":282,"s":1},{"k":283,"s":1},{"k":284,"s":1},{"k":285,"s":1},{"k":286,"s":1},{"k":287,"s":1},{"k":288,"s":2},{"k":289,"s":1},{"k":290,"s":2},{"k":291,"s":1},{"k":292,"s":1},{"k":293,"s":1},{"k":294,"s":1},{"k":295,"s":1},{"k":296,"s":1},{"k":297,"s":1},{"k":298,"s":1}
],"mark":[{"x":1784,"y":-0.018,"t":"https://blog.csdn.net/sanctuary03"}]},
"resolve":{"scale":{"x":"independent"}},
"layer":[
{"data":{"name":"links"},"mark":{"type":"rule","strokeWidth":2.08,"strokeCap":"butt"},"encoding":{"x":{"field":"l","type":"quantitative","axis":null,"scale":{"domain":[46.5,1774.5],"nice":false,"zero":false}},"y":{"field":"a","type":"quantitative","axis":{"values":[0,0.2,0.4,0.6,0.8],"format":".1f","title":null},"scale":{"domain":[0,0.9905],"nice":false}},"y2":{"field":"t"},"color":{"field":"c","type":"nominal","legend":null,"scale":{"domain":["C0","C1","C2","C3","C4"],"range":["#1f77b4","#ff7f0e","#2ca02c","#d62728","#9467bd"]}}}},
{"data":{"name":"links"},"mark":{"type":"rule","strokeWidth":2.08,"strokeCap":"butt"},"encoding":{"x":{"field":"r","type":"quantitative","axis":null,"scale":{"domain":[46.5,1774.5],"nice":false,"zero":false}},"y":{"field":"b","type":"quantitative","axis":{"values":[0,0.2,0.4,0.6,0.8],"format":".1f","title":null},"scale":{"domain":[0,0.9905],"nice":false}},"y2":{"field":"t"},"color":{"field":"c","type":"nominal","legend":null,"scale":{"domain":["C0","C1","C2","C3","C4"],"range":["#1f77b4","#ff7f0e","#2ca02c","#d62728","#9467bd"]}}}},
{"data":{"name":"links"},"mark":{"type":"rule","strokeWidth":2.08,"strokeCap":"square"},"encoding":{"x":{"field":"l","type":"quantitative","axis":null,"scale":{"domain":[46.5,1774.5],"nice":false,"zero":false}},"x2":{"field":"r"},"y":{"field":"t","type":"quantitative","axis":{"values":[0,0.2,0.4,0.6,0.8],"format":".1f","title":null},"scale":{"domain":[0,0.9905],"nice":false}},"color":{"field":"c","type":"nominal","legend":null,"scale":{"domain":["C0","C1","C2","C3","C4"],"range":["#1f77b4","#ff7f0e","#2ca02c","#d62728","#9467bd"]}}}},
{"data":{"name":"leaves"},"mark":{"type":"text","font":"DejaVu Sans","fontSize":6.2,"angle":270,"align":"center","baseline":"middle","dx":-13,"color":"#000"},"encoding":{"x":{"field":"k","type":"quantitative","axis":null,"scale":{"domain":[-0.5,298.5],"nice":false,"zero":false}},"y":{"datum":0,"type":"quantitative","scale":{"domain":[0,0.9905],"nice":false}},"text":{"field":"s","type":"nominal"}}},
{"data":{"name":"mark"},"mark":{"type":"text","font":"Liberation Sans","fontSize":15.8,"align":"right","baseline":"middle","color":"#c8c8c8","opacity":0.6},"encoding":{"x":{"field":"x","type":"quantitative","axis":null,"scale":{"domain":[46.5,1774.5],"nice":false,"zero":false}},"y":{"field":"y","type":"quantitative","scale":{"domain":[0,0.9905],"nice":false}},"text":{"field":"t","type":"nominal"}}}
]}
